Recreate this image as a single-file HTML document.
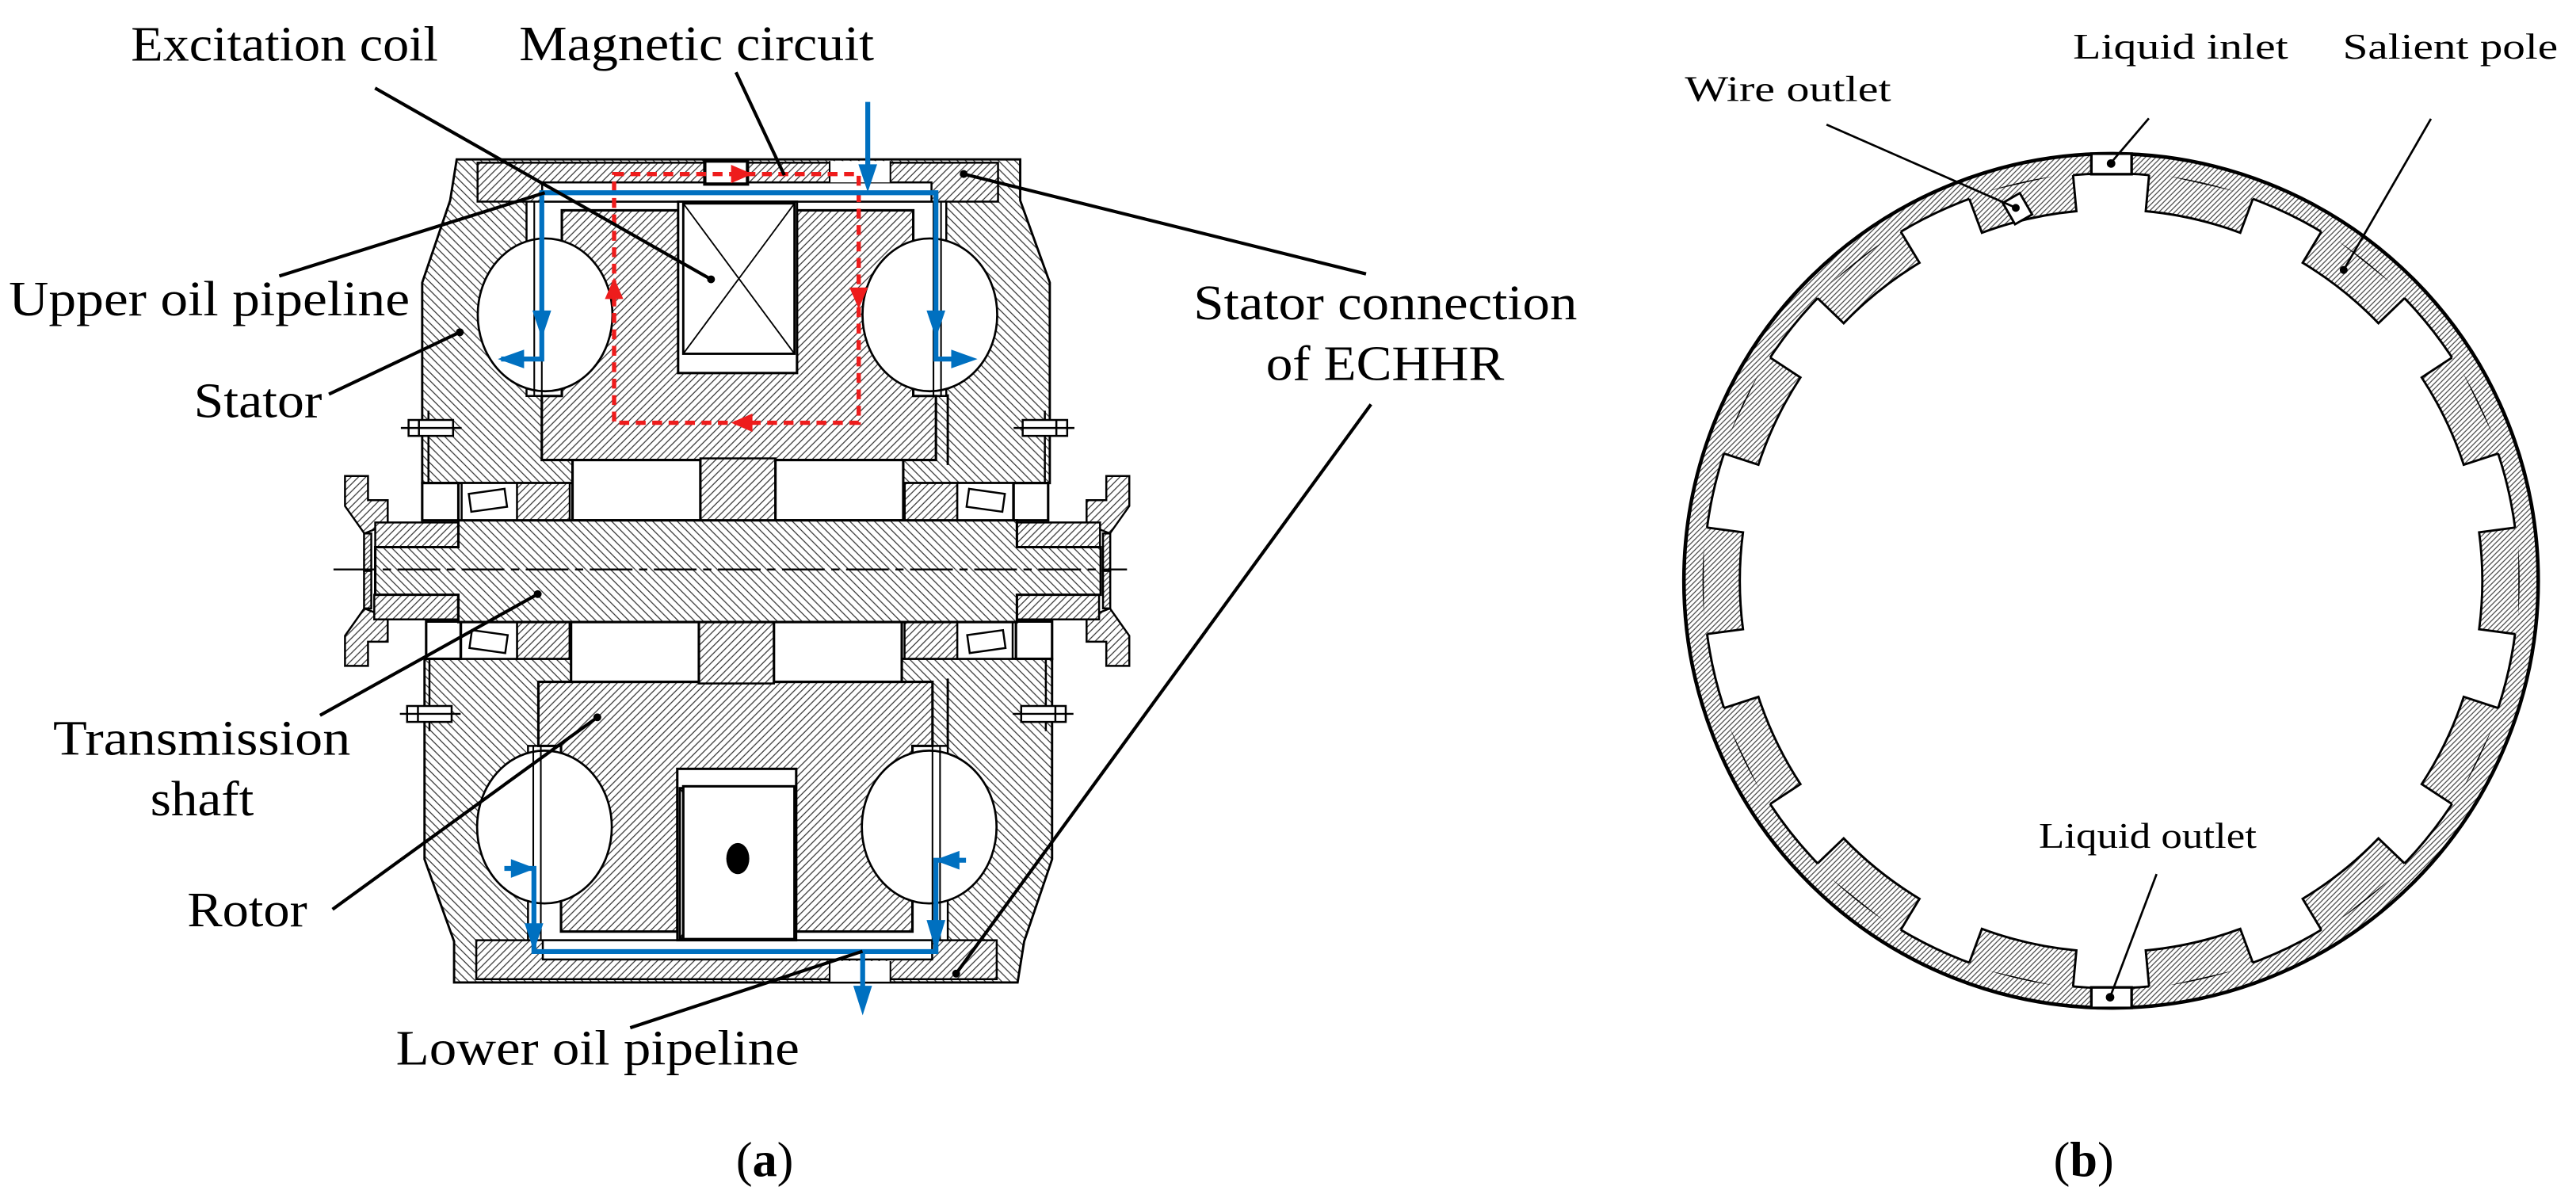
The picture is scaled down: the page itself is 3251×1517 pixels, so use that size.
<!DOCTYPE html>
<html><head><meta charset="utf-8"><style>
html,body{margin:0;padding:0;background:#fff;}
svg{display:block;}
text{font-family:"Liberation Serif",serif;fill:#000;}
</style></head><body>
<svg width="3251" height="1517" viewBox="0 0 1568 731.6" xmlns="http://www.w3.org/2000/svg">
<defs>
<pattern id="hA" patternUnits="userSpaceOnUse" width="5" height="5"><rect width="5" height="5" fill="#fff"/><path d="M-1,-1 L6,6 M-1,4 L1,6 M4,-1 L6,1" stroke="#333" stroke-width="0.6"/></pattern>
<pattern id="hB" patternUnits="userSpaceOnUse" width="4.5" height="4.5"><rect width="4.5" height="4.5" fill="#fff"/><path d="M-1,5.5 L5.5,-1 M-1,1 L1,-1 M3.5,5.5 L5.5,3.5" stroke="#333" stroke-width="0.6"/></pattern>
<pattern id="hC" patternUnits="userSpaceOnUse" width="3.2" height="3.2"><rect width="3.2" height="3.2" fill="#fff"/><path d="M-1,4.2 L4.2,-1 M-1,1 L1,-1 M2.2,4.2 L4.2,2.2" stroke="#444" stroke-width="0.6"/></pattern>
<path id="pole" d="M1252.4,105.6 L1255.5,129.45 A226 226 0 0 1 1314.5,129.45 L1317.6,105.6 Z"/>
<path id="poleL" d="M1252.6,107.6 L1255.5,129.45 A226 226 0 0 1 1314.5,129.45 L1317.4,107.6" fill="none" stroke="#000" stroke-width="1.4"/>
<clipPath id="polesClip">
<use href="#pole" transform="rotate(12.86 1285 353.5)"/><use href="#pole" transform="rotate(38.57 1285 353.5)"/>
<use href="#pole" transform="rotate(64.29 1285 353.5)"/><use href="#pole" transform="rotate(90 1285 353.5)"/>
<use href="#pole" transform="rotate(115.71 1285 353.5)"/><use href="#pole" transform="rotate(141.43 1285 353.5)"/>
<use href="#pole" transform="rotate(167.14 1285 353.5)"/><use href="#pole" transform="rotate(192.86 1285 353.5)"/>
<use href="#pole" transform="rotate(218.57 1285 353.5)"/><use href="#pole" transform="rotate(244.29 1285 353.5)"/>
<use href="#pole" transform="rotate(270 1285 353.5)"/><use href="#pole" transform="rotate(295.71 1285 353.5)"/>
<use href="#pole" transform="rotate(321.43 1285 353.5)"/><use href="#pole" transform="rotate(347.14 1285 353.5)"/>
</clipPath>
</defs>

<g id="top" stroke="#000" stroke-width="1.2">
 <path d="M278,97 L621,97 L621,122 L639,172 L639,294 L257,294 L257,172 L274,122 Z" fill="url(#hA)" stroke-width="1.4"/>
 <line x1="260.8" y1="250" x2="260.8" y2="294"/>
 <line x1="636" y1="250" x2="636" y2="294"/>
 <rect x="320.5" y="111" width="255.5" height="130" fill="#fff"/>
 <rect x="290.7" y="99" width="316.8" height="23.7" fill="url(#hB)"/>
 <rect x="330" y="111" width="237" height="11.7" fill="#fff"/>
 <path d="M342,128 L412.8,128 L412.8,227 L485.1,227 L485.1,128 L555.9,128 L555.9,241 L569.7,241 L569.7,280 L329.8,280 L329.8,241 L342,241 Z" fill="url(#hB)" stroke-width="1.5"/>
 <rect x="426.3" y="279" width="45.7" height="38" fill="url(#hB)"/>
 <rect x="348.5" y="280" width="77.8" height="36.7" fill="#fff" stroke-width="1.5"/>
 <rect x="472" y="280" width="77.8" height="36.7" fill="#fff" stroke-width="1.5"/>
 <rect x="412.8" y="122.7" width="72.3" height="104.3" fill="#fff" stroke-width="1.4"/>
 <rect x="415.9" y="123.8" width="67.7" height="91.5" fill="#fff" stroke-width="1.4"/>
 <path d="M415.9,123.8 L483.6,215.3 M483.6,123.8 L415.9,215.3" stroke-width="0.9"/>
 <ellipse cx="331.8" cy="191.6" rx="41" ry="46.5" fill="#fff" stroke-width="1.3"/>
 <ellipse cx="566" cy="191.6" rx="41" ry="46.5" fill="#fff" stroke-width="1.3"/>
 <path d="M325.2,122.7 V241 M329.8,122.7 V241 M568.2,122.7 V241 M572.8,122.7 V241" stroke-width="1"/>
 <rect x="257" y="294" width="22" height="22.7" fill="#fff" stroke-width="1.5"/>
 <rect x="281" y="294" width="34" height="22.7" fill="#fff"/>
 <rect x="286" y="299" width="22" height="11" fill="#fff" transform="rotate(-8 297 304.5)"/>
 <rect x="314.7" y="294" width="32.1" height="22.7" fill="url(#hB)"/>
 <rect x="550.7" y="294" width="32" height="22.7" fill="url(#hB)"/>
 <rect x="582.7" y="294" width="34" height="22.7" fill="#fff"/>
 <rect x="589" y="299" width="22" height="11" fill="#fff" transform="rotate(8 600 304.5)"/>
 <rect x="617" y="294" width="21" height="22.7" fill="#fff" stroke-width="1.5"/>
 <path d="M210,289.7 L224,289.7 L224,304.4 L236,304.4 L236,319 L221.8,324.7 L210,308 Z" fill="url(#hB)"/>
 <path d="M687.4,289.7 L673.4,289.7 L673.4,304.4 L661.4,304.4 L661.4,319 L675.6,324.7 L687.4,308 Z" fill="url(#hB)"/>
 <rect x="228.4" y="318" width="50.6" height="15" fill="url(#hB)"/>
 <rect x="618.6" y="318" width="51" height="15" fill="url(#hB)"/>
 <rect x="221.6" y="324.7" width="4.4" height="22.8" fill="url(#hC)"/>
 <rect x="671.4" y="324.7" width="4.4" height="22.8" fill="url(#hC)"/>
 <rect x="248.7" y="255.6" width="27.1" height="9.7" fill="#fff"/>
 <line x1="244" y1="260.5" x2="281" y2="260.5"/>
 <line x1="255" y1="255.6" x2="255" y2="265.3"/>
 <rect x="622.5" y="255.6" width="27.1" height="9.7" fill="#fff"/>
 <line x1="617" y1="260.5" x2="654" y2="260.5"/>
 <line x1="643" y1="255.6" x2="643" y2="265.3"/>
</g>
<use href="#top" transform="rotate(180 448.7 347.5)"/>

<path d="M279,316.7 L619,316.7 L619,333 L670,333 L670,362 L619,362 L619,378.6 L279,378.6 L279,362 L228.4,362 L228.4,333 L279,333 Z" fill="url(#hA)" stroke="#000" stroke-width="1.5"/>
<line x1="203" y1="346.6" x2="686" y2="346.6" stroke="#000" stroke-width="1.2" stroke-dasharray="26 4 5 4"/>

<rect x="429" y="98" width="26" height="14" fill="#fff" stroke="#000" stroke-width="2"/>
<rect x="505" y="98" width="37" height="13" fill="#fff" stroke="none"/>
<path d="M505,98 V111 M542,98 V111" stroke="#000" stroke-width="1"/>
<rect x="505" y="585" width="37" height="12.5" fill="#fff" stroke="none"/>
<path d="M505,585 V597.5 M542,585 V597.5" stroke="#000" stroke-width="1"/>
<rect x="415.9" y="478.6" width="67.7" height="93" fill="#fff" stroke="#000" stroke-width="1.5"/>
<ellipse cx="449.1" cy="522.6" rx="7" ry="9.5" fill="#000"/>
<path d="M576.9,240 V283 M576.9,413 V455" stroke="#000" stroke-width="1.4"/>

<rect x="373.8" y="105.9" width="148.9" height="151.4" fill="none" stroke="#ee1c1c" stroke-width="2.6" stroke-dasharray="6 4"/>
<g fill="#ee1c1c">
<polygon points="458,105.9 445,100.3 445,111.5"/>
<polygon points="373.8,169 368.2,182 379.4,182"/>
<polygon points="522.7,188 517.1,175 528.3,175"/>
<polygon points="445,257.3 458,251.7 458,262.9"/>
</g>

<g stroke="#0070c0" stroke-width="3" fill="none">
<path d="M528.2,62 V112"/>
<path d="M305,218.5 H329.8 V117.3 H569.7 V218.5 H588"/>
<path d="M307,528.6 H325 V579.2 H569.7 V523.6 H588"/>
<path d="M525.1,579.2 V610"/>
</g>
<g fill="#0070c0">
<polygon points="522.5,100 533.9,100 528.2,117"/>
<polygon points="324.1,189 335.5,189 329.8,206"/>
<polygon points="303,218.5 319,212.8 319,224.2"/>
<polygon points="564,189 575.4,189 569.7,206"/>
<polygon points="595,218.5 579,212.8 579,224.2"/>
<polygon points="326,528.6 311,522.9 311,534.3"/>
<polygon points="319.3,562 330.7,562 325,579"/>
<polygon points="568.7,523.6 584,517.9 584,529.3"/>
<polygon points="564,560 575.4,560 569.7,579"/>
<polygon points="519.4,600 530.8,600 525.1,618"/>
</g>

<g stroke="#000" stroke-width="2" fill="none">
<path d="M448,44 L477.4,106.6"/>
<path d="M228.3,53.6 L432.8,170"/>
<path d="M170,168 L331.6,117.3"/>
<path d="M200.2,239.9 L279.9,202.2"/>
<path d="M586.6,105.9 L831.5,166.7"/>
<path d="M834.5,246.1 L582,592.6"/>
<path d="M194.8,435.4 L327.3,361.6"/>
<path d="M202.4,553.5 L363.6,436.6"/>
<path d="M383.6,625.6 L525,579"/>
</g>
<g fill="#000">
<circle cx="432.8" cy="170" r="2.4"/><circle cx="279.9" cy="202.2" r="2.4"/>
<circle cx="586.6" cy="105.9" r="2.4"/><circle cx="582" cy="592.6" r="2.4"/>
<circle cx="327.3" cy="361.6" r="2.4"/><circle cx="363.6" cy="436.6" r="2.4"/>
</g>

<g font-size="30">
<text x="79.7" y="36.9" textLength="187" lengthAdjust="spacingAndGlyphs">Excitation coil</text>
<text x="316" y="36.6" textLength="216" lengthAdjust="spacingAndGlyphs">Magnetic circuit</text>
<text x="5.4" y="191.9" textLength="244" lengthAdjust="spacingAndGlyphs">Upper oil pipeline</text>
<text x="118" y="253.9" textLength="78" lengthAdjust="spacingAndGlyphs">Stator</text>
<text x="726.5" y="194.4" textLength="233.5" lengthAdjust="spacingAndGlyphs">Stator connection</text>
<text x="770.6" y="231.3" textLength="145" lengthAdjust="spacingAndGlyphs">of ECHHR</text>
<text x="32.3" y="459.4" textLength="181" lengthAdjust="spacingAndGlyphs">Transmission</text>
<text x="91.5" y="496.3" textLength="63" lengthAdjust="spacingAndGlyphs">shaft</text>
<text x="114" y="563.8" textLength="73" lengthAdjust="spacingAndGlyphs">Rotor</text>
<text x="241" y="648" textLength="245.6" lengthAdjust="spacingAndGlyphs">Lower oil pipeline</text>
<text x="448" y="716">(<tspan font-weight="bold">a</tspan>)</text>
<text x="1250" y="716">(<tspan font-weight="bold">b</tspan>)</text>
</g>

<circle cx="1285" cy="353.5" r="260" fill="url(#hC)" stroke="#000" stroke-width="2.2"/>
<circle cx="1285" cy="353.5" r="248" fill="#fff" stroke="#000" stroke-width="1.4"/>
<g clip-path="url(#polesClip)">
<rect x="1000" y="80" width="570" height="560" fill="url(#hC)"/>
</g>
<use href="#poleL" transform="rotate(12.86 1285 353.5)"/><use href="#poleL" transform="rotate(38.57 1285 353.5)"/>
<use href="#poleL" transform="rotate(64.29 1285 353.5)"/><use href="#poleL" transform="rotate(90 1285 353.5)"/>
<use href="#poleL" transform="rotate(115.71 1285 353.5)"/><use href="#poleL" transform="rotate(141.43 1285 353.5)"/>
<use href="#poleL" transform="rotate(167.14 1285 353.5)"/><use href="#poleL" transform="rotate(192.86 1285 353.5)"/>
<use href="#poleL" transform="rotate(218.57 1285 353.5)"/><use href="#poleL" transform="rotate(244.29 1285 353.5)"/>
<use href="#poleL" transform="rotate(270 1285 353.5)"/><use href="#poleL" transform="rotate(295.71 1285 353.5)"/>
<use href="#poleL" transform="rotate(321.43 1285 353.5)"/><use href="#poleL" transform="rotate(347.14 1285 353.5)"/>

<rect x="1273" y="93.5" width="24.5" height="12.5" fill="#fff" stroke="#000" stroke-width="1.6"/>
<rect x="1273" y="601" width="24.5" height="12.5" fill="#fff" stroke="#000" stroke-width="1.6"/>
<rect x="1222" y="119.5" width="12" height="15" fill="#fff" stroke="#000" stroke-width="1.4" transform="rotate(-30 1228 127)"/>
<g stroke="#000" stroke-width="1.3" fill="none">
<path d="M1111.8,75.8 L1226,126"/>
<path d="M1308,72 L1285,99"/>
<path d="M1479.7,72.3 L1426.6,164.3"/>
<path d="M1312.7,532 L1284.4,607"/>
</g>
<g fill="#000">
<circle cx="1285" cy="99.5" r="2.6"/><circle cx="1284.4" cy="607" r="2.6"/>
<circle cx="1227" cy="126.5" r="2.4"/><circle cx="1426.6" cy="164.3" r="2.4"/>
</g>
<g font-size="22">
<text x="1025.6" y="61.5" textLength="125.5" lengthAdjust="spacingAndGlyphs">Wire outlet</text>
<text x="1261.8" y="35.7" textLength="131" lengthAdjust="spacingAndGlyphs">Liquid inlet</text>
<text x="1426" y="35.7" textLength="131" lengthAdjust="spacingAndGlyphs">Salient pole</text>
<text x="1241" y="516" textLength="132.6" lengthAdjust="spacingAndGlyphs">Liquid outlet</text>
</g>
</svg>
</body></html>
